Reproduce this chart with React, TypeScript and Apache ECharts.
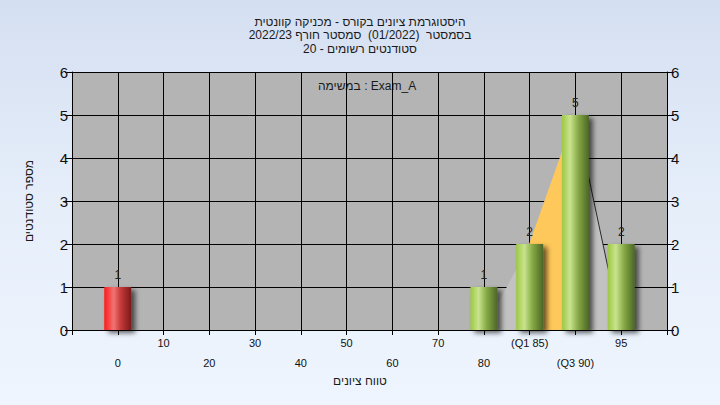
import React, { useEffect, useRef } from "react";
import * as echarts from "echarts";

// ---- data ----
const titleLines = [
  "היסטוגרמת ציונים בקורס - מכניקה קוונטית",
  "בסמסטר  (01/2022)  סמסטר חורף 2022/23",
  "סטודנטים רשומים - 20",
];
const taskLabel = "במשימה : Exam_A";
const xAxisTitle = "טווח ציונים";
const yAxisTitle = "מספר סטודנטים";
const binLabels = ["0", "10", "20", "30", "40", "50", "60", "70", "80", "(Q1 85)", "(Q3 90)", "95"];
const studentCounts = [1, 0, 0, 0, 0, 0, 0, 0, 1, 2, 5, 2];
const curveValues = [0, 0, 0, 0, 0, 0, 0, 0, 0, 2, 5, 0];
const curveEdgeValues = [null, null, null, null, null, null, null, null, null, null, 5, 0];
const iqrValues = [null, null, null, null, null, null, null, null, null, 2, 5, null];
const yTicks = { min: 0, max: 6, interval: 1 };

const redGrad = () =>
  new echarts.graphic.LinearGradient(0, 0, 1, 0, [
    { offset: 0, color: "#ff1a1a" },
    { offset: 0.35, color: "#f07474" },
    { offset: 0.6, color: "#c83a3a" },
    { offset: 1, color: "#7a1a1a" },
  ]);
const greenGrad = () =>
  new echarts.graphic.LinearGradient(0, 0, 1, 0, [
    { offset: 0, color: "#9cc843" },
    { offset: 0.3, color: "#c9e38e" },
    { offset: 0.6, color: "#86aa45" },
    { offset: 1, color: "#4c6526" },
  ]);

export default function App() {
  const ref = useRef<HTMLDivElement>(null);
  useEffect(() => {
    if (!ref.current) return;
    const chart = echarts.init(ref.current, null, { renderer: "svg" });
    const cats = ["", ...binLabels, ""];
    const pad = (arr: any[]) => [null, ...arr, null];
    const font = "'Liberation Sans', Arial, sans-serif";
    const yAxisBase = {
      type: "value",
      min: yTicks.min,
      max: yTicks.max,
      interval: yTicks.interval,
      axisLine: { show: true, lineStyle: { color: "#000", width: 1 } },
      axisTick: { show: true, length: 7, lineStyle: { color: "#000" } },
      axisLabel: { color: "#111", fontSize: 15, fontFamily: font, margin: 4 },
      splitLine: { show: true, lineStyle: { color: "#000", width: 1 } },
    };
    chart.setOption({
      animation: false,
      backgroundColor: "transparent",
      title: {
        text: titleLines.join("\n"),
        left: "center",
        top: 10,
        textStyle: { fontSize: 12, fontWeight: "normal", color: "#1a1a1a", fontFamily: font, lineHeight: 13.5 },
      },
      grid: {
        left: 72,
        right: 53,
        top: 72,
        bottom: 75,
        show: true,
        backgroundColor: "#b4b4b4",
        borderWidth: 0,
      },
      xAxis: {
        type: "category",
        data: cats,
        boundaryGap: false,
        axisLine: { show: true, lineStyle: { color: "#000", width: 1 } },
        axisTick: { show: true, length: 5, interval: 0, lineStyle: { color: "#000" } },
        axisLabel: {
          interval: 0,
          color: "#111",
          fontSize: 11,
          fontFamily: font,
          margin: 3,
          lineHeight: 20,
          formatter: (v: string, i: number) => {
            if (v === "") return "";
            return i % 2 === 1 ? "\n" + v : v;
          },
        },
        splitLine: { show: true, interval: 0, lineStyle: { color: "#000", width: 1 } },
      },
      yAxis: [
        {
          ...yAxisBase,
          position: "left",
          name: yAxisTitle,
          nameLocation: "middle",
          nameGap: 37,
          nameRotate: 90,
          nameTextStyle: { fontSize: 12, color: "#1a1a1a", fontFamily: font },
        },
        { ...yAxisBase, position: "right", splitLine: { show: false } },
      ],
      series: [
        {
          type: "line",
          data: pad(curveValues),
          symbol: "none",
          z: 1,
          lineStyle: { width: 0 },
          areaStyle: { color: "#c2c2c2", opacity: 1 },
        },
        {
          type: "line",
          data: pad(iqrValues),
          symbol: "none",
          z: 2,
          lineStyle: { color: "#ffc85a", width: 1 },
          areaStyle: { color: "#ffc85a", opacity: 1 },
        },
        {
          type: "line",
          data: pad(curveEdgeValues),
          symbol: "none",
          z: 2,
          lineStyle: { color: "#2a2a2a", width: 1 },
        },
        {
          type: "bar",
          z: 3,
          barWidth: 27,
          data: pad(
            studentCounts.map((v, i) => ({
              value: v === 0 ? null : v,
              itemStyle: {
                color: i === 0 ? redGrad() : greenGrad(),
                shadowColor: "rgba(0,0,0,0.6)",
                shadowBlur: 5,
                shadowOffsetX: 4,
                shadowOffsetY: 3,
              },
            }))
          ),
          label: {
            show: true,
            position: "top",
            distance: 6,
            color: "#222",
            fontSize: 12,
            fontFamily: font,
          },
        },
      ],
      graphic: [
        {
          type: "text",
          left: 318,
          top: 80,
          style: { text: taskLabel, fontSize: 12, fill: "#1a1a1a", fontFamily: font },
        },
        {
          type: "text",
          left: "center",
          top: 375,
          style: { text: xAxisTitle, fontSize: 12, fill: "#1a1a1a", fontFamily: font },
        },
      ],
    });
    return () => chart.dispose();
  }, []);
  return (
    <div
      style={{
        position: "fixed",
        left: 0,
        top: 0,
        width: 720,
        height: 405,
        background: "linear-gradient(180deg, #d4dff1 0%, #e6eefa 50%, #eef5fe 100%)",
      }}
    >
      <div ref={ref} style={{ width: 720, height: 405 }} />
    </div>
  );
}
